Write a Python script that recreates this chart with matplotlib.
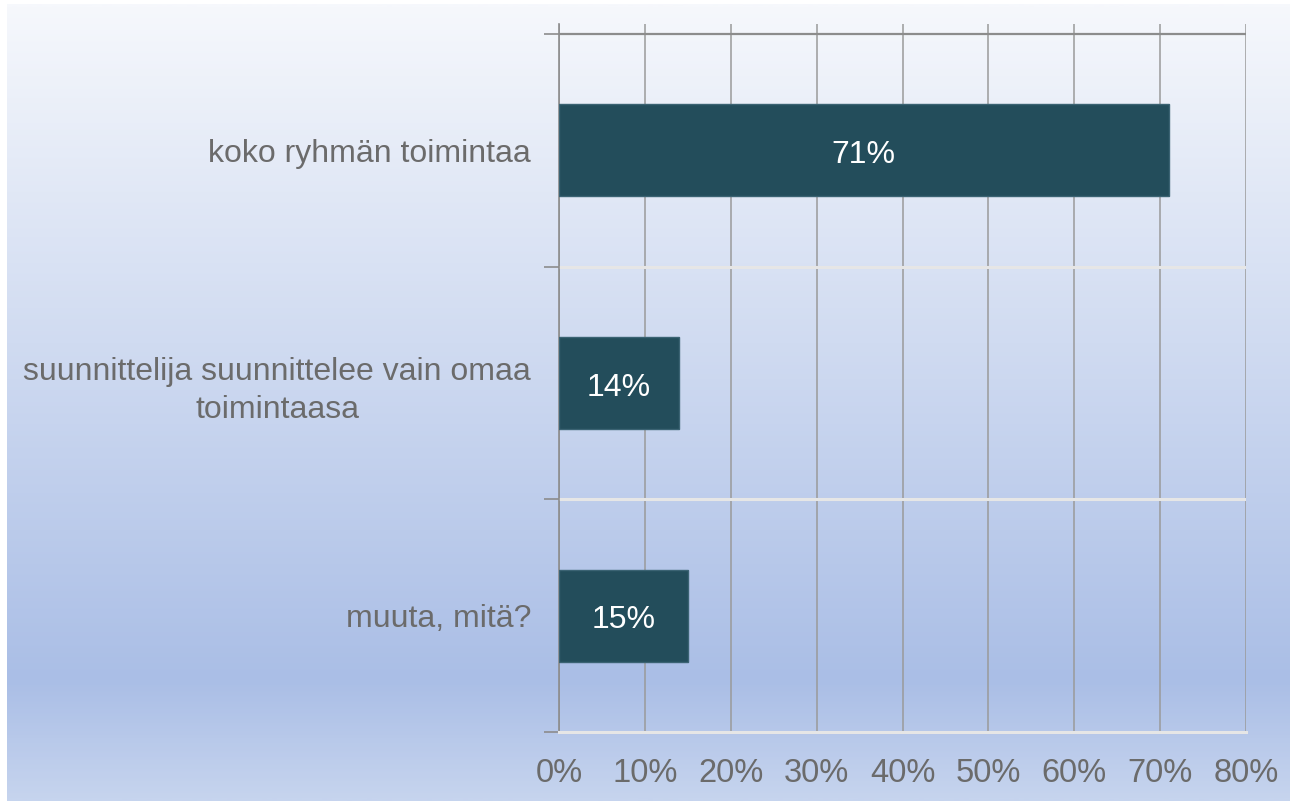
import numpy as np
import matplotlib.pyplot as plt
from matplotlib.colors import LinearSegmentedColormap

# --- data ---
kategoriat = ['koko ryhmän toimintaa',
              'suunnittelija suunnittelee vain omaa\ntoimintaasa',
              'muuta, mitä?']
osuudet = [71, 14, 15]
x_ticks = [0, 10, 20, 30, 40, 50, 60, 70, 80]
x_labels = [f'{t}%' for t in x_ticks]

plt.rcParams['font.family'] = ['Liberation Sans', 'DejaVu Sans']
teksti_vari = '#6b6b6b'

fig = plt.figure(figsize=(12.9, 8.01), dpi=100)

# taustan liukuväri
tausta = fig.add_axes([7 / 1290, 0, 1 - 7 / 1290, 797 / 801], zorder=0)
cmap = LinearSegmentedColormap.from_list(
    'tausta', [(0.0, '#f6f8fc'), (0.85, '#aabee6'), (1.0, '#c6d4ee')])
grad = np.linspace(0, 1, 400).reshape(-1, 1)
tausta.imshow(grad, aspect='auto', cmap=cmap, extent=[0, 1, 1, 0])
tausta.set_axis_off()

ax = fig.add_axes([559 / 1290, 69 / 801, (1246 - 559) / 1290, (732 - 24) / 801], zorder=1)
ax.patch.set_alpha(0)

y = np.arange(len(kategoriat))
ax.barh(y, osuudet, height=0.395, color='#234d5b', edgecolor='#3b6373', linewidth=1, zorder=3)
for yi, v in zip(y, osuudet):
    ax.text(v / 2, yi + 0.02, f'{v}%', ha='center', va='center', color='white',
            fontsize=23, zorder=4)

ax.set_xlim(0, 80)
ax.set_ylim(2.5, -0.543)
ax.set_xticks(x_ticks)
ax.set_xticklabels(x_labels, fontsize=23.5, color=teksti_vari)
ax.tick_params(axis='x', length=0, pad=19)
ax.grid(axis='x', color='#9a9a9a', linewidth=1.1, zorder=1)
ax.set_axisbelow(True)

# kategoria-akseli
ax.set_yticks([-0.5, 0.5, 1.5, 2.5], minor=False)
ax.set_yticklabels([])
ax.tick_params(axis='y', length=11, color='#8c8c8c', width=1.2)
ax.set_yticks(y, minor=True)
ax.set_yticklabels(kategoriat, minor=True, fontsize=23, color=teksti_vari,
                   multialignment='center', linespacing=1.35)
ax.tick_params(axis='y', which='minor', length=0, pad=20)

ax.axhline(-0.5, color='#8c8c8c', linewidth=1.6, zorder=2)
for b in [0.5, 1.5]:
    ax.axhline(b, color='#e6e6e6', linewidth=2.2, zorder=2)

for s in ['top', 'right']:
    ax.spines[s].set_visible(False)
ax.spines['bottom'].set_color('#e6e6e6')
ax.spines['bottom'].set_linewidth(2.2)
ax.spines['left'].set_color('#8c8c8c')
ax.spines['left'].set_linewidth(1.2)

plt.savefig('out.png', dpi=100)
